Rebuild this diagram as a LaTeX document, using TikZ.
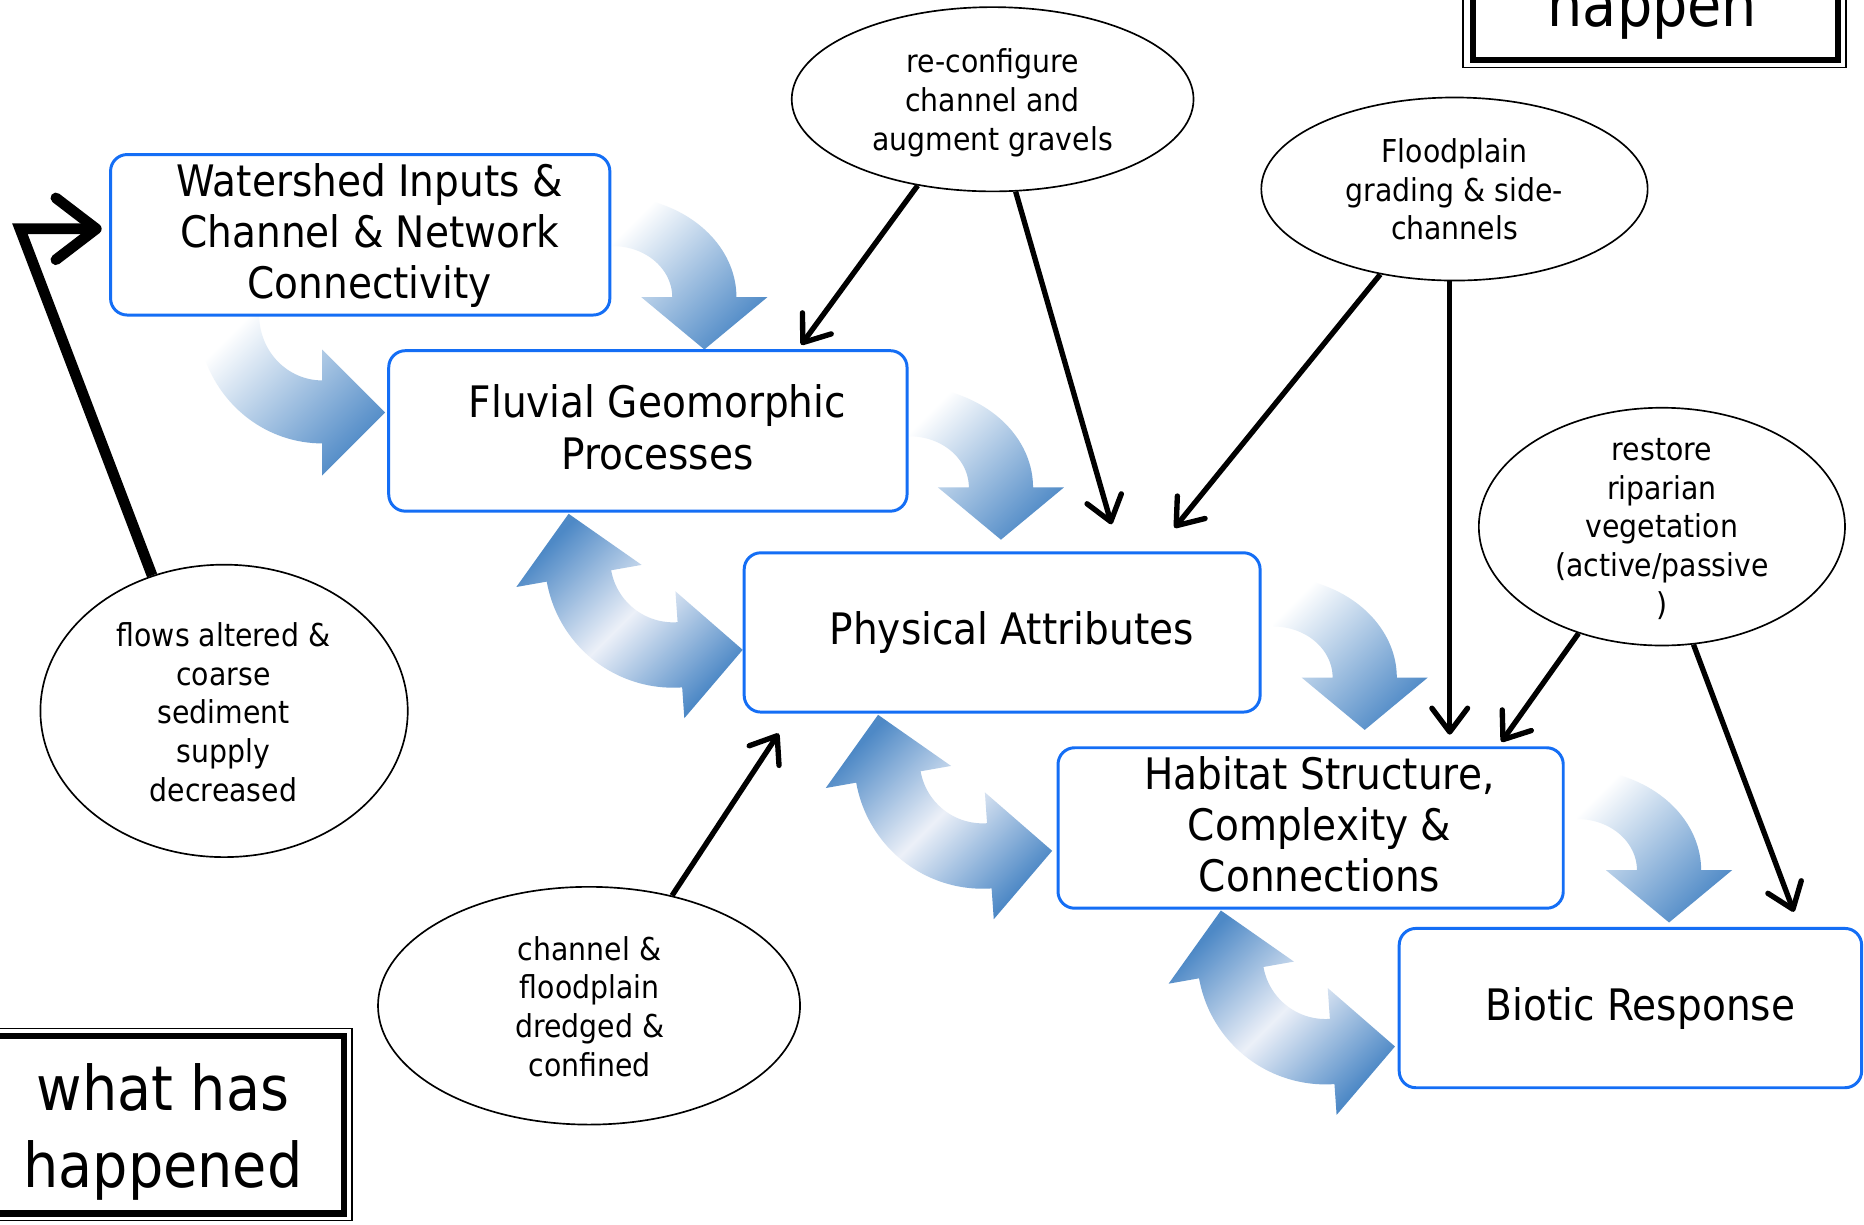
\documentclass[tikz,border=0pt]{standalone}
\usepackage{fontspec}
\setmainfont{DejaVu Sans}[FakeStretch=0.9]
\usetikzlibrary{arrows.meta,shapes.geometric}
\definecolor{boxblue}{RGB}{20,110,245}
\definecolor{arrblue}{RGB}{78,137,198}
\definecolor{arrlight}{RGB}{236,240,248}
\tikzset{
  box/.style={draw=boxblue, line width=2.5pt, rounded corners=14pt, inner sep=0pt},
  btext/.style={font=\fontsize{36.5}{43}\selectfont, align=center, inner sep=0pt},
  ell/.style={draw, ellipse, line width=1.4pt, inner sep=0pt},
  etext/.style={font=\fontsize{26.5}{32.5}\selectfont, align=center, inner sep=0pt},
  blk/.style={line width=4.5pt, -{Straight Barb[length=20pt,width=30pt,round]}},
  bigblk/.style={line width=9pt, line join=miter, -{Straight Barb[length=34pt,width=52pt,round]}},
  ttext/.style={font=\fontsize{52}{66}\selectfont, inner sep=0pt},
  thickframe/.style={draw, line width=5.5pt, inner sep=0pt},
  thinframe/.style={draw, line width=1.2pt, inner sep=0pt},
  singarr/.pic={
    \shade[left color=white, right color=arrblue, shading angle=45]
      plot[domain=-90:0, samples=40] ({104*cos(\x)},{85*sin(\x)})
      -- (130,0) -- (77,44) -- (24,0)
      -- plot[domain=0:-90, samples=40] ({50*cos(\x)},{43*sin(\x)}) -- cycle;
  },
  singarrB/.pic={
    \shade[left color=white, right color=arrblue, shading angle=45]
      plot[domain=180:90, samples=40] ({105*cos(\x)},{108*sin(\x)})
      -- (0,135) -- (53,82) -- (0,29)
      -- plot[domain=90:180, samples=40] ({53*cos(\x)},{55*sin(\x)}) -- cycle;
  },
  dblarr/.pic={
    \shade[left color=arrblue, right color=arrblue, middle color=arrlight, shading angle=45]
      plot[domain=86:170, samples=40] ({108*cos(\x)},{108*sin(\x)})
      -- (170:134) -- (-87.98,-38.30) -- (170:27)
      -- plot[domain=170:86, samples=40] ({53*cos(\x)},{53*sin(\x)})
      -- (86:27) -- (58.45,76.11) -- (86:134) -- cycle;
  }
}
\begin{document}
\begin{tikzpicture}[x=1pt,y=-1pt]
\useasboundingbox (0,0) rectangle (1568,1030);
\clip (0,0) rectangle (1568,1030);
\fill[white] (0,0) rectangle (1568,1030);

% gradient curved arrows
\pic (sa1) at (515.5,250) {singarr};
\pic (sa2) at (271,265) {singarrB};
\pic (sa3) at (765,410) {singarr};
\pic (sa4) at (1071,570) {singarr};
\pic (sa5) at (1327,732) {singarr};
\pic (da1) at (566.3,470.5) {dblarr};
\pic (da2) at (826.6,639.6) {dblarr};
\pic (da3) at (1115,804.2) {dblarr};

% blue boxes
\node[box, minimum width=420pt, minimum height=135pt] (ws) at (303,197.5) {};
\node[box, minimum width=436pt, minimum height=135pt] (fl) at (545,362.5) {};
\node[box, minimum width=434pt, minimum height=134pt] (pa) at (843,532) {};
\node[box, minimum width=425pt, minimum height=135pt] (hs) at (1102.5,696.5) {};
\node[box, minimum width=389pt, minimum height=134pt] (br) at (1371.5,848) {};

\node[btext] (wst) at (311,198) {Watershed Inputs \&\\Channel \& Network\\Connectivity};
\node[btext] (flt) at (553,359.5) {Fluvial Geomorphic\\Processes};
\node[btext] (pat) at (851,532) {Physical Attributes};
\node[btext] (hst) at (1110,693.5) {Habitat Structure,\\Complexity \&\\Connections};
\node[btext] (brt) at (1380,848) {Biotic Response};

% ellipses
\node[ell, minimum width=338pt, minimum height=155pt] (A) at (835,83.5) {};
\node[ell, minimum width=325pt, minimum height=154pt] (B) at (1223.5,159) {};
\node[ell, minimum width=308pt, minimum height=200pt] (C) at (1398,443) {};
\node[ell, minimum width=309pt, minimum height=246pt] (D) at (188.5,598) {};
\node[ell, minimum width=355pt, minimum height=200pt] (E) at (495.5,846) {};

\node[etext] (At) at (835,86.5) {re-configure\\channel and\\augment gravels};
\node[etext] (Bt) at (1223.5,159.5) {Floodplain\\grading \& side-\\channels};
\node[etext] (Ct) at (1398,445) {restore\\riparian\\vegetation\\(active/passive\\)};
\node[etext] (Dt) at (188,599) {flows altered \&\\coarse\\sediment\\supply\\decreased};
\node[etext] (Et) at (496,846.5) {channel \&\\floodplain\\dredged \&\\confined};

% black arrows
\coordinate (tA1) at (674,290);
\coordinate (tA2) at (935,441);
\coordinate (tB1) at (988,444);
\coordinate (tB2) at (1219.5,618);
\coordinate (tC1) at (1263,624);
\coordinate (tC2) at (1509,767);
\coordinate (tE) at (655,617);
\coordinate (cD) at (16.8,192.5);
\coordinate (tD) at (85.5,192.5);

\draw[blk] (A.229) -- (tA1);
\draw[blk] (A.284) -- (tA2);
\draw[blk] (B.229) -- (tB1);
\draw[blk] (B.south -| tB2) -- (tB2);
\draw[blk] (C.232) -- (tC1);
\draw[blk] (C.285) -- (tC2);
\draw[blk] (E.53) -- (tE);
\draw[bigblk] (D.118) -- (cD) -- (tD);

% title frames
\node[thickframe, minimum width=307pt, minimum height=80pt] (hapframe) at (1392.5,10.5) {};
\node[thinframe, minimum width=322.5pt, minimum height=97pt] (hapframeo) at (1391.75,8.5) {};
\node[ttext, anchor=base] (hap) at (1390,22.4) {happen};

\node[thickframe, minimum width=320pt, minimum height=149.5pt] (whframe) at (129.5,946.25) {};
\node[thinframe, minimum width=340pt, minimum height=161.5pt] (whframeo) at (126,945.75) {};
\node[ttext, anchor=base] (wh1) at (137,934) {what has};
\node[ttext, anchor=base] (wh2) at (137,999) {happened};
\end{tikzpicture}
\end{document}
